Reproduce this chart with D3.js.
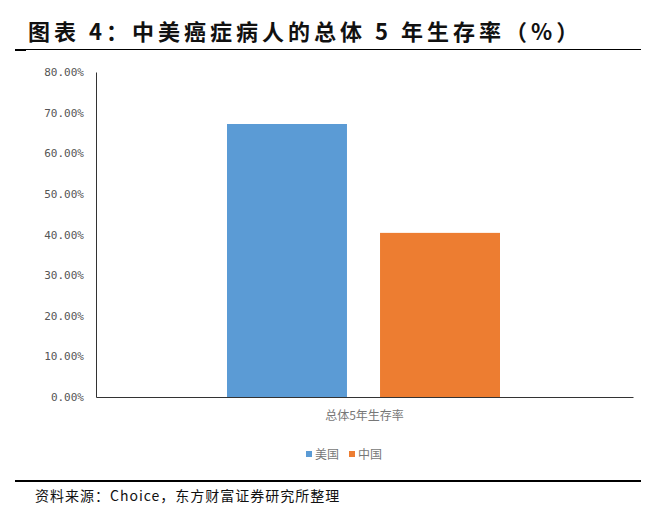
<!DOCTYPE html><html><head><meta charset="utf-8">
<script src="https://cdn.jsdelivr.net/npm/d3@7"></script>
<style>body{margin:0;background:#fff}</style></head><body>
<svg id="c" width="659" height="523"></svg>
<script>
const categories=["总体5年生存率"];
const seriesNames=["美国","中国"];
const usValues=[67.2];
const cnValues=[40.4];
const colors=["#5b9bd5","#ed7d31"];
const yTicks=[0,10,20,30,40,50,60,70,80];
const svg=d3.select("#c");
const f="'Noto Sans CJK SC',sans-serif";
svg.append("text").attr("x",28).attr("y",40).attr("font-family",f).attr("font-weight","bold").attr("font-size",22).attr("letter-spacing",4).attr("fill","#111").text("图表 4：中美癌症病人的总体 5 年生存率（%）");
svg.append("line").attr("x1",15).attr("x2",641).attr("y1",49.5).attr("y2",49.5).attr("stroke","#000").attr("stroke-width",1);
svg.append("line").attr("x1",15).attr("x2",26).attr("y1",50).attr("y2",50).attr("stroke","#000").attr("stroke-width",2);
const y=d3.scaleLinear().domain([0,80]).range([397,72]);
const x0=d3.scaleBand().domain(categories).range([96,633]);
const x1=d3.scaleBand().domain(seriesNames).range([x0("总体5年生存率")+131,x0("总体5年生存率")+404]).paddingInner(0.216);
const ya=svg.append("g").attr("transform","translate(96,0)").call(d3.axisLeft(y).tickValues(yTicks).tickSize(0).tickPadding(12).tickFormat(d=>d.toFixed(2)+"%"));
ya.select(".domain").attr("stroke","#333");
ya.selectAll("text").attr("font-family","'DejaVu Sans Mono',monospace").attr("font-size",11).attr("fill","#555");
const data=[usValues,cnValues];
seriesNames.forEach((s,i)=>{
 svg.selectAll(null).data(categories).enter().append("rect")
 .attr("x",c=>x1(s)).attr("width",x1.bandwidth()).attr("y",(c,j)=>y(data[i][j])).attr("height",(c,j)=>397-y(data[i][j])).attr("fill",colors[i]);
});
const xa=svg.append("g").attr("transform","translate(0,397)").call(d3.axisBottom(x0).tickSize(0).tickPadding(14));
xa.select(".domain").attr("stroke","#333");
xa.selectAll("text").attr("font-family",f).attr("font-size",12).attr("fill","#777");
const lg=[{n:"美国",x:306},{n:"中国",x:349}];
lg.forEach((l,i)=>{svg.append("rect").attr("x",l.x).attr("y",451).attr("width",6).attr("height",6).attr("fill",colors[i]);
svg.append("text").attr("x",l.x+9).attr("y",459).attr("font-family",f).attr("font-size",12).attr("fill","#777").text(l.n);});
svg.append("line").attr("x1",15).attr("x2",641).attr("y1",481).attr("y2",481).attr("stroke","#000").attr("stroke-width",2);
svg.append("text").attr("x",35).attr("y",501).attr("font-family",f).attr("font-size",14).attr("letter-spacing",1).attr("fill","#111").text("资料来源：Choice，东方财富证券研究所整理");
</script></body></html>
